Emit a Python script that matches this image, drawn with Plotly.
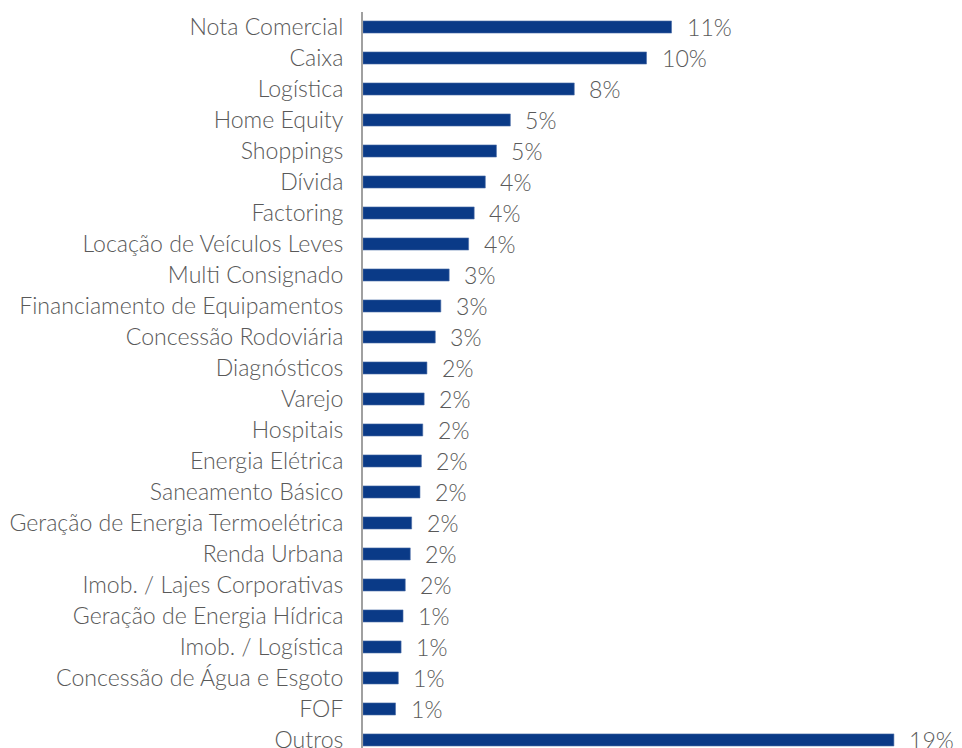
import plotly.graph_objects as go

categories = [
    "Nota Comercial", "Caixa", "Logística", "Home Equity", "Shoppings", "Dívida",
    "Factoring", "Locação de Veículos Leves", "Multi Consignado",
    "Financiamento de Equipamentos", "Concessão Rodoviária", "Diagnósticos",
    "Varejo", "Hospitais", "Energia Elétrica", "Saneamento Básico",
    "Geração de Energia Termoelétrica", "Renda Urbana", "Imob. / Lajes Corporativas",
    "Geração de Energia Hídrica", "Imob. / Logística", "Concessão de Água e Esgoto",
    "FOF", "Outros",
]
values = [11.1, 10.2, 7.6, 5.3, 4.8, 4.4, 4.0, 3.8, 3.1, 2.8, 2.6, 2.3,
          2.2, 2.15, 2.1, 2.05, 1.75, 1.7, 1.52, 1.44, 1.37, 1.27, 1.17, 19.1]
labels = ["11%", "10%", "8%", "5%", "5%", "4%", "4%", "4%", "3%", "3%", "3%", "2%",
          "2%", "2%", "2%", "2%", "2%", "2%", "2%", "1%", "1%", "1%", "1%", "19%"]

FONT = "Lato"
FSIZE = 23.1
TEXT_COLOR = "#595959"
BAR_COLOR = "#0A3A87"

fig = go.Figure()
fig.add_trace(go.Bar(
    x=values, y=categories, orientation="h",
    marker=dict(color=BAR_COLOR, line=dict(color="#4E6FA8", width=0.6)),
    hoverinfo="skip",
))

annotations = []
for c, v, t in zip(categories, values, labels):
    annotations.append(dict(
        x=v, y=c, xref="x", yref="y", text=t, showarrow=False,
        xanchor="left", yanchor="middle", xshift=13,
        font=dict(family=FONT, size=FSIZE, color=TEXT_COLOR, weight=300),
    ))

n = len(categories)
fig.update_layout(
    width=954, height=748,
    margin=dict(l=355, r=0, t=4, b=8),
    paper_bgcolor="white", plot_bgcolor="white",
    bargap=0.61,
    showlegend=False,
    annotations=annotations,
    font=dict(family=FONT, size=FSIZE, color=TEXT_COLOR, weight=300),
    xaxis=dict(range=[0, 21.55], visible=False, fixedrange=True),
    yaxis=dict(
        categoryorder="array", categoryarray=categories,
        range=[n - 1 + 0.26, -0.484],
        showline=True, linecolor="#A0A0A0", linewidth=2,
        showgrid=False, zeroline=False, ticks="",
        ticklabelstandoff=13,
        tickfont=dict(family=FONT, size=FSIZE, color=TEXT_COLOR, weight=300),
        fixedrange=True,
    ),
)

fig.write_html("out.html")
